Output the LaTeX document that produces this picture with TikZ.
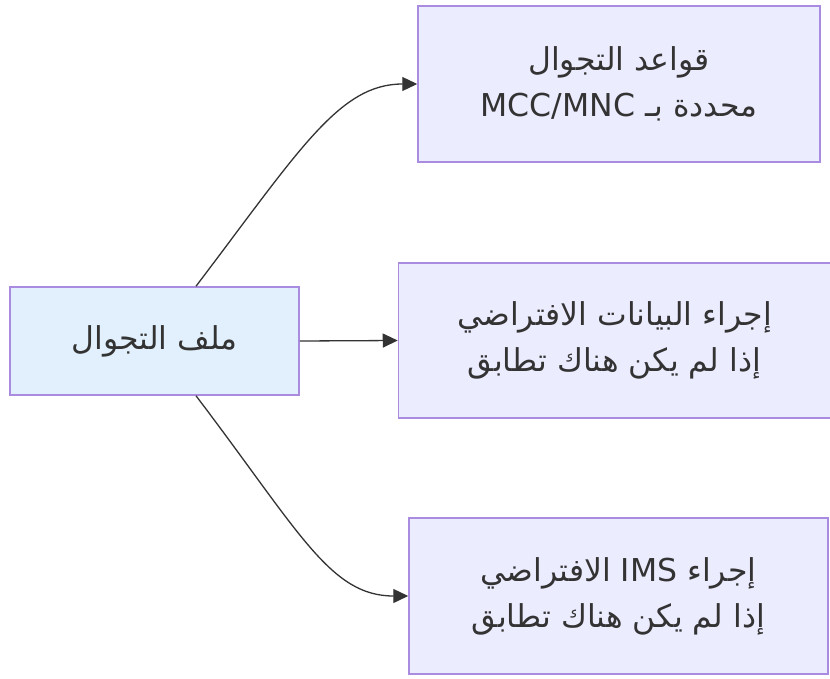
\documentclass[tikz,border=0pt]{standalone}
\usepackage{fontspec}
\setmainfont{DejaVu Sans}
\newfontfamily\arabicfont[Script=Arabic]{DejaVu Sans}
\TeXXeTstate=1
\usetikzlibrary{arrows.meta}
\definecolor{nodefill}{HTML}{ECECFF}
\definecolor{srcfill}{HTML}{E1F0FC}
\definecolor{nodeline}{HTML}{A98BE0}
\definecolor{edgeline}{HTML}{333333}

\begin{document}
\begin{tikzpicture}[x=1pt,y=-1pt,
  font=\arabicfont\fontsize{31.5}{46}\selectfont,
  box/.style={draw=nodeline,line width=1.5pt,fill=nodefill,align=center,text=edgeline,inner sep=0pt},
  src/.style={box,fill=srcfill},
  fl/.style={-{Triangle[length=15pt,width=14pt]},draw=edgeline,line width=1.3pt},
]
\useasboundingbox (0,0) rectangle (830,679);
\node[src,minimum width=289pt,minimum height=108pt] (prof) at (154.5,341)
  {\beginR ملف التجوال\endR};
\node[box,minimum width=402pt,minimum height=156pt] (rules) at (619,84)
  {\beginR قواعد التجوال\endR\\\beginR محددة بـ \beginL MCC/MNC\endL\endR};
\node[box,minimum width=432pt,minimum height=155pt] (data) at (614.5,340.5)
  {\beginR إجراء البيانات الافتراضي\endR\\\beginR إذا لم يكن هناك تطابق\endR};
\node[box,minimum width=419pt,minimum height=156pt] (ims) at (618.5,596)
  {\beginR إجراء \beginL IMS\endL{} الافتراضي\endR\\\beginR إذا لم يكن هناك تطابق\endR};
% edges
\draw[fl] ([xshift=41.5pt]prof.north) .. controls +(104,-137) and +(-78,0) .. (rules.west);
\draw[fl] (prof.east) -- (data.west);
\draw[fl] ([xshift=41.5pt]prof.south) .. controls +(104,137) and +(-78,0) .. (ims.west);
\end{tikzpicture}
\end{document}
